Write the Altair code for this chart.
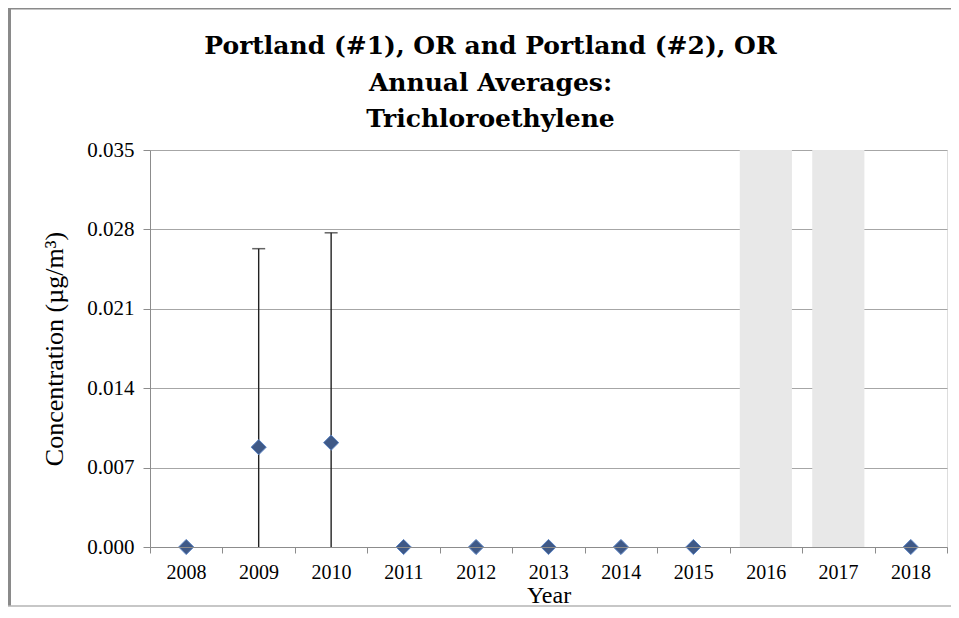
import altair as alt
import pandas as pd

# ---- data ----
years = [2008, 2009, 2010, 2011, 2012, 2013, 2014, 2015, 2016, 2017, 2018]
averages = [0.0, 0.0088, 0.0092, 0.0, 0.0, 0.0, 0.0, 0.0, None, None, 0.0]
err_low = [None, 0.0, 0.0, None, None, None, None, None, None, None, None]
err_high = [None, 0.0263, 0.0277, None, None, None, None, None, None, None, None]
not_sampled_years = [2016, 2017]
y_ticks = [0.0, 0.007, 0.014, 0.021, 0.028, 0.035]
x_tick_bounds = [2007.5, 2008.5, 2009.5, 2010.5, 2011.5, 2012.5, 2013.5,
                 2014.5, 2015.5, 2016.5, 2017.5, 2018.5]
title_lines = ["Portland (#1), OR and Portland (#2), OR",
               "Annual Averages:",
               "Trichloroethylene"]

df = pd.DataFrame({"year": years, "avg": averages, "lo": err_low, "hi": err_high})
pts = df.dropna(subset=["avg"])
errs = df.dropna(subset=["hi"])
gaps = pd.DataFrame({"year": not_sampled_years})

FONT = "Liberation Serif, Times New Roman, serif"
TFONT = "DejaVu Serif"
W, H = 797, 397
PL, PT, PR, PB = 142, 142, 4, 60

xscale = alt.Scale(domain=[x_tick_bounds[0], x_tick_bounds[-1]], nice=False, zero=False)
yscale = alt.Scale(domain=[y_ticks[0], y_ticks[-1]], nice=False, zero=False)

xaxis = alt.Axis(
    values=x_tick_bounds,
    labelExpr="datum.value < 2018 ? format(datum.value + 0.5, 'd') : ''",
    labelOffset=36, labelFlush=False, labelOverlap=False, labelAngle=0,
    grid=False, tickSize=6, tickColor="#8c8c8c", domainColor="#8c8c8c",
    labelFont=FONT, labelFontSize=20, labelColor="#000000", labelPadding=9,
    title="Year", titleFont=FONT, titleFontSize=24, titleFontWeight="normal",
    titleColor="#000000", titlePadding=1, zindex=1,
)
yaxis = alt.Axis(
    values=y_ticks, format=".3f",
    grid=True, gridColor="#a6a6a6", gridWidth=1.2,
    tickSize=7, tickColor="#8c8c8c", domainColor="#8c8c8c",
    labelFont=FONT, labelFontSize=21, labelColor="#000000", labelPadding=9,
    title="Concentration (µg/m³)", titleFont=FONT, titleFontSize=26,
    titleFontWeight="normal", titleColor="#000000", titlePadding=19,
)

bands = alt.Chart(gaps).transform_calculate(
    x0="datum.year - 0.36", x1="datum.year + 0.36"
).mark_rect(color="#e8e8e8").encode(
    x=alt.X("x0:Q", scale=xscale, axis=xaxis),
    x2="x1:Q",
    y=alt.datum(y_ticks[-1], type="quantitative", scale=yscale, axis=yaxis),
    y2=alt.datum(0),
)

rules = alt.Chart(errs).mark_rule(color="#222222", strokeWidth=1.4).encode(
    x=alt.X("year:Q", scale=xscale),
    y=alt.Y("lo:Q", scale=yscale),
    y2="hi:Q",
)
caps = alt.Chart(errs).mark_tick(orient="horizontal", color="#222222",
                                 size=13, thickness=1.5).encode(
    x=alt.X("year:Q", scale=xscale),
    y=alt.Y("hi:Q", scale=yscale),
)
points = alt.Chart(pts).mark_point(shape="diamond", filled=True, size=230,
                                   fill="#3f5987", stroke="#5b83c2",
                                   strokeWidth=1, opacity=1).encode(
    x=alt.X("year:Q", scale=xscale),
    y=alt.Y("avg:Q", scale=yscale),
)

one = pd.DataFrame({"k": [0]})
frame_top = alt.Chart(one).mark_rule(color="#8a8a8a", strokeWidth=3).encode(
    x=alt.value(-PL), x2=alt.value(W + 20), y=alt.value(-PT))
frame_left = alt.Chart(one).mark_rule(color="#8a8a8a", strokeWidth=6).encode(
    x=alt.value(-PL), y=alt.value(-PT), y2=alt.value(H + PB - 1))
frame_bottom = alt.Chart(one).mark_rule(color="#b4b4b4", strokeWidth=1.5).encode(
    x=alt.value(-PL), x2=alt.value(W + 20), y=alt.value(H + PB - 1))

chart = alt.layer(bands, rules, caps, points, frame_top, frame_left, frame_bottom).properties(
    width=W, height=H,
    title=alt.TitleParams(
        text=title_lines, font=TFONT, fontSize=25, fontWeight="bold",
        color="#000000", lineHeight=36.5, anchor="middle", frame="group",
        dx=-58, offset=14, dy=141,
    ),
    padding={"left": PL, "top": PT, "right": PR, "bottom": PB},
    autosize=alt.AutoSizeParams(type="none"),
).configure_view(stroke=None).configure(background="white")

chart.save("out.html", embed_options={"renderer": "svg", "actions": False})
